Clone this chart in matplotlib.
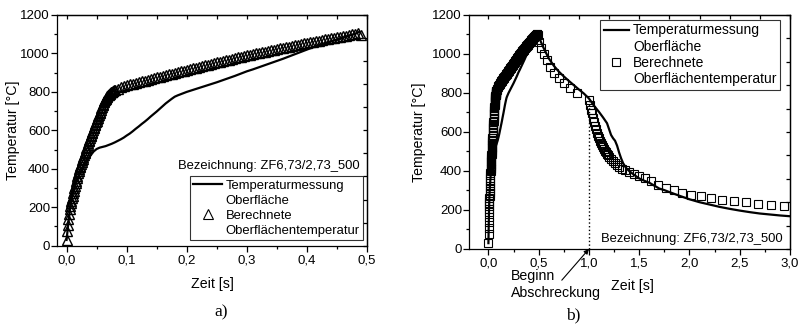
import matplotlib
matplotlib.use("Agg")
import matplotlib.pyplot as plt
from matplotlib.lines import Line2D
from matplotlib.ticker import MultipleLocator

plt.rcParams['font.family'] = ['Liberation Sans', 'DejaVu Sans']

# ---------------------------------------------------------------------------
# Heating phase: measured surface temperature (thermocouple)
t_meas_heat = [0.000, 0.003, 0.006, 0.010, 0.015, 0.020, 0.025, 0.030, 0.035,
               0.040, 0.045, 0.050, 0.055, 0.060, 0.065, 0.070, 0.075, 0.080,
               0.085, 0.090, 0.095, 0.100, 0.105, 0.110, 0.115, 0.120, 0.125,
               0.130, 0.135, 0.140, 0.145, 0.150, 0.155, 0.160, 0.165, 0.170,
               0.175, 0.180, 0.185, 0.190, 0.195, 0.200, 0.210, 0.220, 0.230,
               0.240, 0.250, 0.260, 0.270, 0.280, 0.290, 0.300, 0.310, 0.320,
               0.330, 0.340, 0.350, 0.360, 0.370, 0.380, 0.390, 0.400, 0.410,
               0.420, 0.430, 0.440, 0.450, 0.460, 0.470, 0.480, 0.487]
T_meas_heat = [30, 120, 200, 270, 320, 360, 395, 425, 450,
               470, 490, 503, 510, 514, 518, 524, 530, 537,
               545, 553, 562, 573, 583, 595, 608, 620, 633,
               645, 658, 672, 685, 698, 712, 726, 740, 752,
               764, 775, 782, 788, 794, 800, 810, 820, 830,
               840, 850, 861, 872, 883, 895, 907, 917, 928,
               939, 950, 961, 972, 984, 996, 1008, 1020, 1032,
               1043, 1053, 1063, 1072, 1082, 1092, 1102, 1112]

# Heating phase: computed surface temperature
t_calc_heat = [0.000, 0.001, 0.002, 0.003, 0.004, 0.005, 0.006, 0.007, 0.008, 0.009,
               0.010, 0.011, 0.012, 0.013, 0.014, 0.015, 0.016, 0.017, 0.018, 0.019,
               0.020, 0.021, 0.022, 0.023, 0.024, 0.025, 0.026, 0.027, 0.028, 0.029,
               0.030, 0.031, 0.032, 0.033, 0.034, 0.035, 0.036, 0.037, 0.038, 0.039,
               0.040, 0.041, 0.042, 0.043, 0.044, 0.045, 0.046, 0.047, 0.048, 0.049,
               0.050, 0.051, 0.052, 0.053, 0.054, 0.055, 0.056, 0.057, 0.058, 0.059,
               0.060, 0.061, 0.062, 0.063, 0.064, 0.065, 0.066, 0.067, 0.068, 0.069,
               0.070, 0.071, 0.072, 0.073, 0.074, 0.075, 0.076, 0.077, 0.078, 0.079,
               0.080, 0.085, 0.090, 0.095, 0.100, 0.105, 0.110, 0.115, 0.120, 0.125,
               0.130, 0.135, 0.140, 0.145, 0.150, 0.155, 0.160, 0.165, 0.170, 0.175,
               0.180, 0.185, 0.190, 0.195, 0.200, 0.205, 0.210, 0.215, 0.220, 0.225,
               0.230, 0.235, 0.240, 0.245, 0.250, 0.255, 0.260, 0.265, 0.270, 0.275,
               0.280, 0.285, 0.290, 0.295, 0.300, 0.305, 0.310, 0.315, 0.320, 0.325,
               0.330, 0.335, 0.340, 0.345, 0.350, 0.355, 0.360, 0.365, 0.370, 0.375,
               0.380, 0.385, 0.390, 0.395, 0.400, 0.405, 0.410, 0.415, 0.420, 0.425,
               0.430, 0.435, 0.440, 0.445, 0.450, 0.455, 0.460, 0.465, 0.470, 0.475,
               0.480, 0.485, 0.490]
T_calc_heat = [30, 75, 110, 140, 165, 190, 205, 220, 235, 248,
               260, 273, 286, 299, 312, 325, 338, 351, 364, 377,
               390, 399, 408, 417, 426, 435, 444, 453, 462, 471,
               480, 489, 498, 507, 516, 525, 534, 543, 552, 561,
               570, 578, 586, 594, 602, 610, 618, 626, 634, 642,
               650, 658, 666, 674, 682, 690, 698, 706, 714, 722,
               730, 738, 745, 752, 758, 764, 769, 774, 778, 782,
               785, 788, 791, 794, 797, 800, 802, 804, 806, 808,
               810, 817, 823, 829, 834, 839, 843, 847, 851, 855,
               859, 863, 867, 871, 875, 879, 883, 887, 891, 895,
               899, 903, 907, 911, 915, 919, 923, 926, 930, 934,
               938, 941, 945, 949, 953, 956, 960, 964, 968, 971,
               975, 979, 983, 986, 990, 993, 996, 1000, 1003, 1006,
               1009, 1013, 1016, 1019, 1022, 1026, 1029, 1032, 1035, 1039,
               1042, 1045, 1048, 1052, 1055, 1058, 1061, 1064, 1067, 1070,
               1073, 1076, 1079, 1082, 1085, 1088, 1091, 1093, 1096, 1099,
               1102, 1105, 1095]

# Cooling phase (quenching starts at 1,0 s): measured surface temperature
t_meas_cool = [0.50, 0.52, 0.55, 0.60, 0.65, 0.70, 0.75, 0.80, 0.85, 0.90,
               0.95, 1.00, 1.05, 1.10, 1.14, 1.18, 1.20, 1.22, 1.24, 1.26,
               1.28, 1.30, 1.32, 1.34, 1.37, 1.40, 1.45, 1.50, 1.55, 1.60,
               1.65, 1.70, 1.75, 1.80, 1.90, 2.00, 2.10, 2.20, 2.30, 2.40,
               2.50, 2.60, 2.70, 2.80, 2.90, 3.00]
T_meas_cool = [1095, 1065, 1030, 978, 940, 910, 885, 862, 840, 818,
               797, 772, 735, 703, 675, 645, 615, 585, 568, 555,
               530, 495, 465, 440, 415, 400, 380, 362, 350, 340,
               325, 310, 302, 292, 273, 255, 240, 228, 216, 206,
               197, 189, 182, 177, 172, 168]

# Cooling phase: computed surface temperature
t_calc_cool = [0.505, 0.525, 0.55, 0.58, 0.615, 0.655, 0.70, 0.75, 0.81, 0.88,
               1.00, 1.01, 1.02, 1.03, 1.04, 1.05, 1.06, 1.07, 1.08, 1.09,
               1.10, 1.11, 1.12, 1.13, 1.14, 1.15, 1.16, 1.17, 1.18, 1.19,
               1.20, 1.22, 1.24, 1.26, 1.28, 1.30, 1.33, 1.36, 1.40, 1.45,
               1.50, 1.56, 1.62, 1.69, 1.77, 1.85, 1.93, 2.02, 2.11, 2.21,
               2.32, 2.44, 2.56, 2.68, 2.81, 2.94]
T_calc_cool = [1060, 1030, 1000, 968, 935, 905, 878, 852, 825, 800,
               765, 740, 715, 695, 672, 652, 633, 615, 597, 582,
               568, 555, 543, 532, 522, 513, 504, 496, 488, 481,
               474, 461, 449, 439, 430, 422, 412, 403, 394, 384,
               374, 362, 349, 330, 313, 300, 288, 278, 270, 262,
               253, 245, 239, 232, 225, 218]

t_quench = 1.0

# Axis ticks and labels
y_ticks = [0, 200, 400, 600, 800, 1000, 1200]
y_ticklabels = ['0', '200', '400', '600', '800', '1000', '1200']
xa_ticks = [0.0, 0.1, 0.2, 0.3, 0.4, 0.5]
xa_ticklabels = ['0,0', '0,1', '0,2', '0,3', '0,4', '0,5']
xb_ticks = [0.0, 0.5, 1.0, 1.5, 2.0, 2.5, 3.0]
xb_ticklabels = ['0,0', '0,5', '1,0', '1,5', '2,0', '2,5', '3,0']

lbl_meas = ['Temperaturmessung', 'Oberfläche']
lbl_calc = ['Berechnete', 'Oberflächentemperatur']
designation = 'Bezeichnung: ZF6,73/2,73_500'

# ---------------------------------------------------------------------------
LW = 1.6
TICK_FS = 9.5
LABEL_FS = 10.2
LEG_FS = 9.4

fig = plt.figure(figsize=(7.99, 3.26), dpi=100)
axA = fig.add_axes([0.0713, 0.2463, 0.388, 0.7077])
axB = fig.add_axes([0.587, 0.2362, 0.4017, 0.7178])


def style_axes(ax, xt, xtl, xminor, xlim, top_step):
    ax.set_xlim(*xlim)
    ax.set_ylim(0, 1200)
    ax.set_xticks(xt)
    ax.set_xticklabels(xtl, fontsize=TICK_FS)
    ax.set_yticks(y_ticks)
    ax.set_yticklabels(y_ticklabels, fontsize=TICK_FS)
    ax.xaxis.set_minor_locator(MultipleLocator(xminor))
    ax.yaxis.set_minor_locator(MultipleLocator(100))
    ax.tick_params(which='both', direction='out', top=False, right=False,
                   width=0.9)
    ax.tick_params(axis='y', pad=1)
    ax.tick_params(axis='x', pad=2)
    ax.tick_params(which='major', length=4)
    ax.tick_params(which='minor', length=2.5)
    for s in ax.spines.values():
        s.set_linewidth(0.9)
    top = ax.secondary_xaxis('top')
    top.xaxis.set_major_locator(MultipleLocator(top_step))
    top.tick_params(direction='in', length=3, width=0.9, labeltop=False)
    right = ax.secondary_yaxis('right')
    right.yaxis.set_major_locator(MultipleLocator(120))
    right.tick_params(direction='in', length=3, width=0.9, labelright=False)
    for s in list(top.spines.values()) + list(right.spines.values()):
        s.set_linewidth(0.9)
    ax.set_ylabel('Temperatur [°C]', fontsize=LABEL_FS)
    ax.set_xlabel('Zeit [s]', fontsize=LABEL_FS)


def make_legend(ax, marker, ms, anchor, loc, fs, spacing, hlen):
    h_line = Line2D([], [], color='k', lw=LW)
    h_mark = Line2D([], [], color='k', ls='none', marker=marker, ms=ms,
                    mfc='none', mew=0.8)
    h_blank = Line2D([], [], ls='none')
    leg = ax.legend([h_line, h_blank, h_mark, h_blank],
                    [lbl_meas[0], lbl_meas[1], lbl_calc[0], lbl_calc[1]],
                    loc=loc, bbox_to_anchor=anchor, fontsize=fs,
                    frameon=True, fancybox=False, edgecolor='k',
                    handlelength=hlen, handletextpad=0.3, labelspacing=spacing,
                    borderpad=0.25, borderaxespad=0)
    leg.get_frame().set_linewidth(0.8)
    return leg


# ---- panel a) : heating only ----
axA.plot(t_calc_heat, T_calc_heat, ls='none', marker='^', ms=7, mfc='none',
         mec='k', mew=1.0, zorder=2)
axA.plot(t_meas_heat, T_meas_heat, color='k', lw=LW, zorder=3)
style_axes(axA, xa_ticks, xa_ticklabels, 0.05, (-0.016, 0.5), 0.05)
axA.yaxis.set_label_coords(-0.118, 0.5)
axA.xaxis.set_label_coords(0.503, -0.135)
axA.text(0.977, 0.347, designation, transform=axA.transAxes, ha='right',
         va='center', fontsize=LEG_FS)
make_legend(axA, '^', 7, (0.988, 0.025), 'lower right', LEG_FS, 0.22, 2.2)

# ---- panel b) : heating, holding and quenching ----
t_b_meas = t_meas_heat + t_meas_cool
T_b_meas = T_meas_heat + T_meas_cool
t_b_calc = t_calc_heat + t_calc_cool
T_b_calc = T_calc_heat + T_calc_cool
axB.plot(t_b_calc, T_b_calc, ls='none', marker='s', ms=5.5, mfc='none',
         mec='k', mew=0.8, zorder=2)
axB.plot(t_b_meas, T_b_meas, color='k', lw=LW, zorder=3)
quench_T = T_calc_cool[t_calc_cool.index(t_quench)]
axB.plot([t_quench, t_quench], [0, quench_T], color='k', ls=':', lw=1.0,
         zorder=1)
style_axes(axB, xb_ticks, xb_ticklabels, 0.25, (-0.193, 3.0), 0.3)
axB.yaxis.set_label_coords(-0.135, 0.5)
axB.xaxis.set_label_coords(0.51, -0.13)
axB.text(0.978, 0.041, designation, transform=axB.transAxes, ha='right',
         va='center', fontsize=LEG_FS)
make_legend(axB, 's', 5.5, (0.969, 0.979), 'upper right', 10.0, 0.16, 1.8)

axB.annotate('', xy=(t_quench, 0), xytext=(0.73, -160),
             arrowprops=dict(arrowstyle='-|>', color='k', lw=0.8,
                             mutation_scale=7, shrinkA=0, shrinkB=0),
             annotation_clip=False)
axB.text(0.22, -105, 'Beginn\nAbschreckung', ha='left', va='top',
         fontsize=LABEL_FS, linespacing=1.2, clip_on=False)

fig.text(221 / 799, 1 - 312 / 326, 'a)', family='Liberation Serif',
         fontsize=12.5, ha='center', va='center')
fig.text(573 / 799, 1 - 315 / 326, 'b)', family='Liberation Serif',
         fontsize=12.5, ha='center', va='center')

fig.savefig('out.png', dpi=100)
